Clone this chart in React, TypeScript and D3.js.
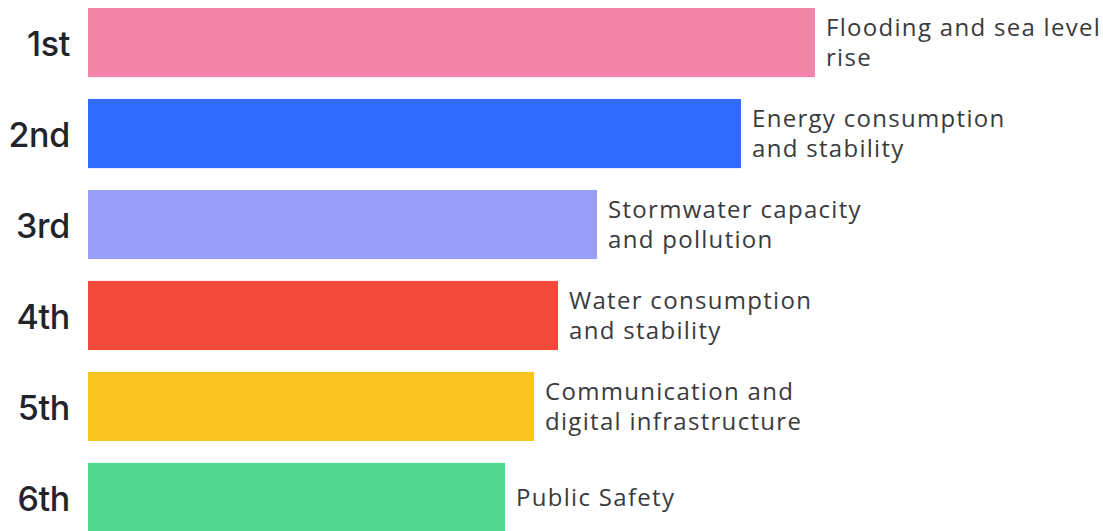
import React from "react";
import * as d3 from "d3";

const ranks = ["1st", "2nd", "3rd", "4th", "5th", "6th"];
const labels = [
  ["Flooding and sea level", "rise"],
  ["Energy consumption", "and stability"],
  ["Stormwater capacity", "and pollution"],
  ["Water consumption", "and stability"],
  ["Communication and", "digital infrastructure"],
  ["Public Safety"],
];
const values = [72.7, 65.3, 50.9, 47.0, 44.6, 41.7];
const colors = ["#F386A8", "#2F6CFF", "#999EF8", "#F24A3A", "#F8C41F", "#52D98F"];

const W = 1103;
const H = 531;

export default function App() {
  const x = d3.scaleLinear().domain([0, 100]).range([88, 1088]);
  const y = d3
    .scaleBand<string>()
    .domain(ranks)
    .range([8, 532])
    .paddingInner(0.24)
    .paddingOuter(0);
  const lineGap = 15;
  return (
    <svg
      width={W}
      height={H}
      style={{ position: "absolute", left: 0, top: 0, background: "#fff" }}
    >
      {ranks.map((r, i) => {
        const y0 = y(r)!;
        const bh = y.bandwidth();
        const cy = y0 + bh / 2;
        const xe = x(values[i]);
        const lines = labels[i];
        return (
          <g key={r}>
            <rect x={x(0)} y={y0} width={xe - x(0)} height={bh} fill={colors[i]} />
            <text
              x={70}
              y={cy + 1}
              textAnchor="end"
              dominantBaseline="central"
              fontFamily="Inter"
              fontWeight={500}
              fontSize={34}
              letterSpacing={-0.3}
              fill="#23232b"
            >
              {r}
            </text>
            <text
              x={xe + 11}
              fontFamily="Open Sans"
              fontSize={24}
              letterSpacing={1.3}
              fill="#3a3a3d"
              dominantBaseline="central"
            >
              {lines.map((l, j) => (
                <tspan
                  key={j}
                  x={xe + 11}
                  y={(lines.length === 1 ? cy : cy + (j === 0 ? -lineGap : lineGap)) - 1.5}
                >
                  {l}
                </tspan>
              ))}
            </text>
          </g>
        );
      })}
    </svg>
  );
}
